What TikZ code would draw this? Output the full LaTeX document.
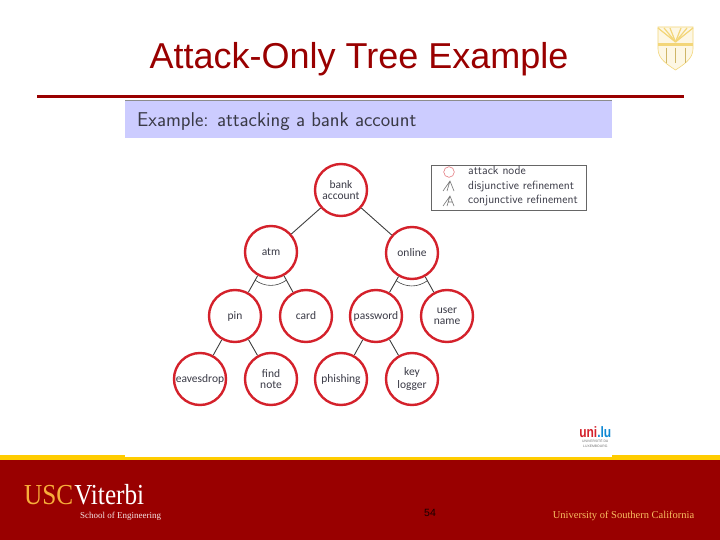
\documentclass[tikz,border=0pt]{standalone}
\usepackage{fontspec}
\setmainfont{Liberation Sans}
\newfontfamily\serifviterbi{Liberation Serif}
\newfontfamily\narrowviterbi[FakeStretch=.87]{Liberation Serif}
\newfontfamily\narrowlogo[FakeStretch=.8]{Liberation Sans}
\newfontfamily\nodefont{Carlito}
\setsansfont{Latin Modern Sans}
\usetikzlibrary{calc,positioning}
\definecolor{cardinal}{HTML}{990000}
\definecolor{attackred}{HTML}{D4212B}
\definecolor{uscgold}{HTML}{FFCC00}
\definecolor{viterbigold}{HTML}{F7AE3A}
\definecolor{shieldgold}{HTML}{F3D679}
\definecolor{bandblue}{HTML}{CCCCFF}
\definecolor{inkgray}{HTML}{3A3A46}
\tikzset{
  attack/.style={circle,draw=attackred,line width=2.4pt,fill=white,minimum size=52pt,inner sep=0pt,
    align=center,text=inkgray,font=\nodefont\fontsize{11.5}{11}\selectfont},
  edge/.style={black!75,line width=.9pt},
  legendtext/.style={anchor=base west,inner sep=0pt,text=inkgray,font=\sffamily\fontsize{11.9}{13}\selectfont},
  legendicon/.style={black!55,line width=.6pt},
}
\begin{document}
\begin{tikzpicture}[x=1pt,y=-1pt]
  \useasboundingbox (0,0) rectangle (720,540);
  \fill[white] (0,0) rectangle (720,540);
  % title and rule
  \node[font=\fontsize{36}{38}\selectfont,text=cardinal,inner sep=0pt] (title) at (359,59.5) {Attack-Only Tree Example};
  \fill[cardinal] (37,95) rectangle (684,98);
  % shield
  \begin{scope}[shift={(658,27)}]
    \fill[shieldgold!20] (0,0) -- (35,0) -- (35,22) .. controls (35,32) and (25,38) .. (17.5,43) .. controls (10,38) and (0,32) .. (0,22) -- cycle;
    \foreach \k in {0,6,12,23,29,35} {
      \draw[shieldgold,line width=1.2pt] (17.5,15) -- (\k,1);
    }
    \fill[shieldgold] (0,16) -- (35,16) -- (35,19) -- (0,19) -- cycle;
    \draw[shieldgold,line width=.6pt] (0,0) -- (35,0) -- (35,22) .. controls (35,32) and (25,38) .. (17.5,43) .. controls (10,38) and (0,32) .. (0,22) -- cycle;
    \foreach \k in {8,17.5,27} {
      \draw[shieldgold!85!black,line width=1pt] (\k,21) -- (\k,36);
    }
  \end{scope}
  % slide heading
  \fill[bandblue] (125,100) rectangle (612,138);
  \draw[black!45,line width=.6pt] (125,100.3) -- (612,100.3);
  \node[anchor=west,inner sep=0pt,text=inkgray,font=\sffamily\fontsize{20}{22}\selectfont] (heading) at (137,121.5) {Example: attacking a bank account};
  % legend
  \draw[black!60,line width=.7pt] (431.5,165) rectangle (586,210);
  \draw[attackred!60,line width=.6pt] (449,172) circle (5.3);
  \draw[legendicon] (443,191) -- (450,181) -- (454,191) (450,181) -- (447,191);
  \draw[legendicon] (443,206) -- (450,196) -- (454,206) (450,196) -- (447,206) (448,202) -- (452.5,202);
  \node[legendtext] (attacklabel) at (468,175) {attack node};
  \node[legendtext] (orlabel) at (468,189.5) {disjunctive refinement};
  \node[legendtext] (andlabel) at (468,204) {conjunctive refinement};
  % tree
  \node[attack] (bank) at (341,190) {bank\\account};
  \node[attack] (atm) at (271,252) {atm};
  \node[attack] (online) at (412,253) {online};
  \node[attack] (pin) at (235,316) {pin};
  \node[attack] (card) at (306,316) {card};
  \node[attack] (password) at (376,316) {password};
  \node[attack] (username) at (447,316) {user\\name};
  \node[attack] (eavesdrop) at (200,379) {eavesdrop};
  \node[attack] (findnote) at (271,379) {find\\note};
  \node[attack] (phishing) at (341,379) {phishing};
  \node[attack] (keylogger) at (412,379) {key\\[2pt]logger};
  \foreach \a/\b in {bank/atm,bank/online,atm/pin,atm/card,online/password,online/username,
    pin/eavesdrop,pin/findnote,password/phishing,password/keylogger} {
    \draw[edge] (\a) -- (\b);
  }
  \coordinate (atmleft) at ($(atm)!.44!(pin)$);
  \coordinate (atmright) at ($(atm)!.44!(card)$);
  \coordinate (onlineleft) at ($(online)!.44!(password)$);
  \coordinate (onlineright) at ($(online)!.44!(username)$);
  \draw[edge,line width=.6pt] (atmleft) to[bend right=35] (atmright);
  \draw[edge,line width=.6pt] (onlineleft) to[bend right=35] (onlineright);
  % uni.lu logo
  \node[anchor=east,inner sep=0pt,font=\narrowlogo\bfseries\fontsize{15}{15}\selectfont] (unilu) at (611.5,432)
    {\textcolor{attackred}{uni}\textcolor{cyan!70!blue}{.lu}};
  \node[below=2pt of unilu,inner sep=0pt,align=center,text=black!55,font=\fontsize{3.4}{4.4}\selectfont] (unilutext)
    {UNIVERSITÉ DU\\LUXEMBOURG};
  % footer
  \fill[uscgold] (0,455) rectangle (720,460);
  \fill[white] (125,455) rectangle (612,457);
  \fill[cardinal] (0,460) rectangle (720,540);
  \node[anchor=base west,inner sep=0pt,font=\narrowviterbi\fontsize{29}{30}\selectfont] (usc) at (24,504)
    {\textcolor{viterbigold}{USC}\kern1pt\textcolor{white}{Viterbi}};
  \node[anchor=base west,inner sep=0pt,text=white!90!cardinal,font=\serifviterbi\fontsize{9}{10}\selectfont] (school) at (80,518) {School of Engineering};
  \node[inner sep=0pt,text=black!85!cardinal,font=\fontsize{10.5}{12}\selectfont] (pagenum) at (430,513) {54};
  \node[anchor=base east,inner sep=0pt,text=viterbigold!80!white,font=\serifviterbi\fontsize{10.5}{12}\selectfont] (university) at (694.5,518) {University of Southern California};
\end{tikzpicture}
\end{document}
